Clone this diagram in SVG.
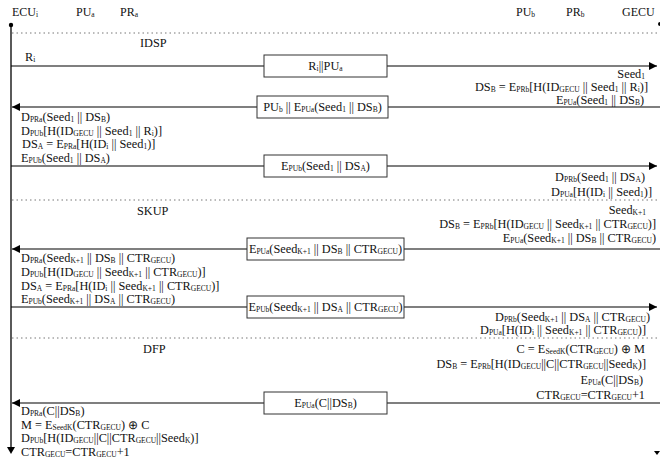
<svg xmlns="http://www.w3.org/2000/svg" width="660" height="460" viewBox="0 0 660 460">
<defs>
<marker id="ah" viewBox="0 0 10 10" refX="10" refY="5" markerWidth="8" markerHeight="8" markerUnits="userSpaceOnUse" orient="auto">
<path d="M0,0 L10,5 L0,10 z" fill="#000"/>
</marker>
<style>
text{font-family:"Liberation Serif","Times New Roman",serif;font-size:12.3px;fill:#111}
.s{font-size:7.5px;baseline-shift:-1px}
.h{font-size:12px}
.r{text-anchor:end}
.c{text-anchor:middle}
.msg{stroke:#000;stroke-width:1.2;fill:none}
.box{fill:#fff;stroke:#333;stroke-width:1}
.dot{stroke:#777;stroke-width:1;stroke-dasharray:1.5 3}
.life{stroke:#000;stroke-width:1.3}
</style>
</defs>
<rect width="660" height="460" fill="#fff"/>

<g id="header">
<text class="h" x="12" y="16">ECU<tspan class="s">i</tspan></text>
<text class="h" x="76" y="16">PU<tspan class="s">a</tspan></text>
<text class="h" x="120" y="16">PR<tspan class="s">a</tspan></text>
<text class="h" x="516" y="16">PU<tspan class="s">b</tspan></text>
<text class="h" x="566" y="16">PR<tspan class="s">b</tspan></text>
<text class="h" x="622" y="16">GECU</text>
</g>

<g id="lifelines">
<circle cx="11" cy="25" r="2.2" fill="#000"/>
<line class="life" x1="11" y1="25" x2="11" y2="448"/>
<path d="M7,447 L15,447 L11,454 z" fill="#000"/>
<circle cx="660" cy="24" r="2" fill="#000"/>
<path d="M654,451 L660,451 L657,455 z" fill="#000"/>
</g>

<g id="separators">
<line class="dot" x1="12" y1="33" x2="660" y2="33"/>
<line class="dot" x1="12" y1="200" x2="660" y2="200"/>
<line class="dot" x1="12" y1="338" x2="660" y2="338"/>
<text x="140" y="47">IDSP</text>
<text x="137" y="215">SKUP</text>
<text x="143" y="353">DFP</text>
</g>

<g id="connectors">
<line class="msg" x1="11" y1="66" x2="657" y2="66" marker-end="url(#ah)"/>
<line class="msg" x1="660" y1="107" x2="12" y2="107" marker-end="url(#ah)"/>
<line class="msg" x1="11" y1="166" x2="657" y2="166" marker-end="url(#ah)"/>
<line class="msg" x1="660" y1="249" x2="12" y2="249" marker-end="url(#ah)"/>
<line class="msg" x1="11" y1="307" x2="657" y2="307" marker-end="url(#ah)"/>
<line class="msg" x1="660" y1="403" x2="12" y2="403" marker-end="url(#ah)"/>
</g>

<g id="m1">
<rect class="box" x="264" y="55" width="123" height="22"/>
<text class="c" x="325.5" y="70">R<tspan class="s">i</tspan>||PU<tspan class="s">a</tspan></text>
</g>
<g id="m2">
<rect class="box" x="257" y="96" width="131" height="22"/>
<text class="c" x="322.5" y="111">PU<tspan class="s">b</tspan> || E<tspan class="s">PUa</tspan>(Seed<tspan class="s">1</tspan> || DS<tspan class="s">B</tspan>)</text>
</g>
<g id="m3">
<rect class="box" x="264" y="155" width="123" height="22"/>
<text class="c" x="325.5" y="170">E<tspan class="s">PUb</tspan>(Seed<tspan class="s">1</tspan> || DS<tspan class="s">A</tspan>)</text>
</g>
<g id="m4">
<rect class="box" x="247" y="238" width="157" height="22"/>
<text class="c" x="325.5" y="253">E<tspan class="s">PUa</tspan>(Seed<tspan class="s">K+1</tspan> || DS<tspan class="s">B</tspan> || CTR<tspan class="s">GECU</tspan>)</text>
</g>
<g id="m5">
<rect class="box" x="247" y="296" width="157" height="22"/>
<text class="c" x="325.5" y="311">E<tspan class="s">PUb</tspan>(Seed<tspan class="s">K+1</tspan> || DS<tspan class="s">A</tspan> || CTR<tspan class="s">GECU</tspan>)</text>
</g>
<g id="m6">
<rect class="box" x="264" y="392" width="123" height="22"/>
<text class="c" x="325.5" y="407">E<tspan class="s">PUa</tspan>(C||DS<tspan class="s">B</tspan>)</text>
</g>

<g id="labels">
<text x="25" y="61">R<tspan class="s">i</tspan></text>
<text class="r" x="645" y="78">Seed<tspan class="s">1</tspan></text>
<text class="r" x="648" y="91">DS<tspan class="s">B</tspan> = E<tspan class="s">PRb</tspan>[H(ID<tspan class="s">GECU</tspan> || Seed<tspan class="s">1</tspan> || R<tspan class="s">i</tspan>)]</text>
<text class="r" x="644" y="104">E<tspan class="s">PUa</tspan>(Seed<tspan class="s">1</tspan> || DS<tspan class="s">B</tspan>)</text>

<text x="21" y="121">D<tspan class="s">PRa</tspan>(Seed<tspan class="s">1</tspan> || DS<tspan class="s">B</tspan>)</text>
<text x="21" y="135">D<tspan class="s">PUb</tspan>[H(ID<tspan class="s">GECU</tspan> || Seed<tspan class="s">1</tspan> || R<tspan class="s">i</tspan>)]</text>
<text x="22" y="148">DS<tspan class="s">A</tspan> = E<tspan class="s">PRa</tspan>[H(ID<tspan class="s">i</tspan> || Seed<tspan class="s">1</tspan>)]</text>
<text x="21" y="162">E<tspan class="s">PUb</tspan>(Seed<tspan class="s">1</tspan> || DS<tspan class="s">A</tspan>)</text>

<text class="r" x="645" y="181">D<tspan class="s">PRb</tspan>(Seed<tspan class="s">1</tspan> || DS<tspan class="s">A</tspan>)</text>
<text class="r" x="652" y="196">D<tspan class="s">PUa</tspan>[H(ID<tspan class="s">i</tspan> || Seed<tspan class="s">1</tspan>)]</text>

<text class="r" x="646" y="214">Seed<tspan class="s">K+1</tspan></text>
<text class="r" x="656" y="228">DS<tspan class="s">B</tspan> = E<tspan class="s">PRb</tspan>[H(ID<tspan class="s">GECU</tspan> || Seed<tspan class="s">K+1</tspan> || CTR<tspan class="s">GECU</tspan>)]</text>
<text class="r" x="656" y="242">E<tspan class="s">PUa</tspan>(Seed<tspan class="s">K+1</tspan> || DS<tspan class="s">B</tspan> || CTR<tspan class="s">GECU</tspan>)</text>

<text x="21" y="262">D<tspan class="s">PRa</tspan>(Seed<tspan class="s">K+1</tspan> || DS<tspan class="s">B</tspan> || CTR<tspan class="s">GECU</tspan>)</text>
<text x="21" y="276">D<tspan class="s">PUb</tspan>[H(ID<tspan class="s">GECU</tspan> || Seed<tspan class="s">K+1</tspan> || CTR<tspan class="s">GECU</tspan>)]</text>
<text x="21" y="290">DS<tspan class="s">A</tspan> = E<tspan class="s">PRa</tspan>[H(ID<tspan class="s">i</tspan> || Seed<tspan class="s">K+1</tspan> || CTR<tspan class="s">GECU</tspan>)]</text>
<text x="21" y="303">E<tspan class="s">PUb</tspan>(Seed<tspan class="s">K+1</tspan> || DS<tspan class="s">A</tspan> || CTR<tspan class="s">GECU</tspan>)</text>

<text class="r" x="650" y="321">D<tspan class="s">PRb</tspan>(Seed<tspan class="s">K+1</tspan> || DS<tspan class="s">A</tspan> || CTR<tspan class="s">GECU</tspan>)</text>
<text class="r" x="646" y="334">D<tspan class="s">PUa</tspan>[H(ID<tspan class="s">i</tspan> || Seed<tspan class="s">K+1</tspan> || CTR<tspan class="s">GECU</tspan>)]</text>

<text class="r" x="645" y="353">C = E<tspan class="s">SeedK</tspan>(CTR<tspan class="s">GECU</tspan>) ⊕ M</text>
<text class="r" x="646" y="368">DS<tspan class="s">B</tspan> = E<tspan class="s">PRb</tspan>[H(ID<tspan class="s">GECU</tspan>||C||CTR<tspan class="s">GECU</tspan>||Seed<tspan class="s">K</tspan>)]</text>
<text class="r" x="643" y="384">E<tspan class="s">PUa</tspan>(C||DS<tspan class="s">B</tspan>)</text>
<text class="r" x="645" y="399">CTR<tspan class="s">GECU</tspan>=CTR<tspan class="s">GECU</tspan>+1</text>

<text x="21" y="415">D<tspan class="s">PRa</tspan>(C||DS<tspan class="s">B</tspan>)</text>
<text x="21" y="429">M = E<tspan class="s">SeedK</tspan>(CTR<tspan class="s">GECU</tspan>) ⊕ C</text>
<text x="21" y="442">D<tspan class="s">PUb</tspan>[H(ID<tspan class="s">GECU</tspan>||C||CTR<tspan class="s">GECU</tspan>||Seed<tspan class="s">K</tspan>)]</text>
<text x="21" y="456">CTR<tspan class="s">GECU</tspan>=CTR<tspan class="s">GECU</tspan>+1</text>
</g>
</svg>
